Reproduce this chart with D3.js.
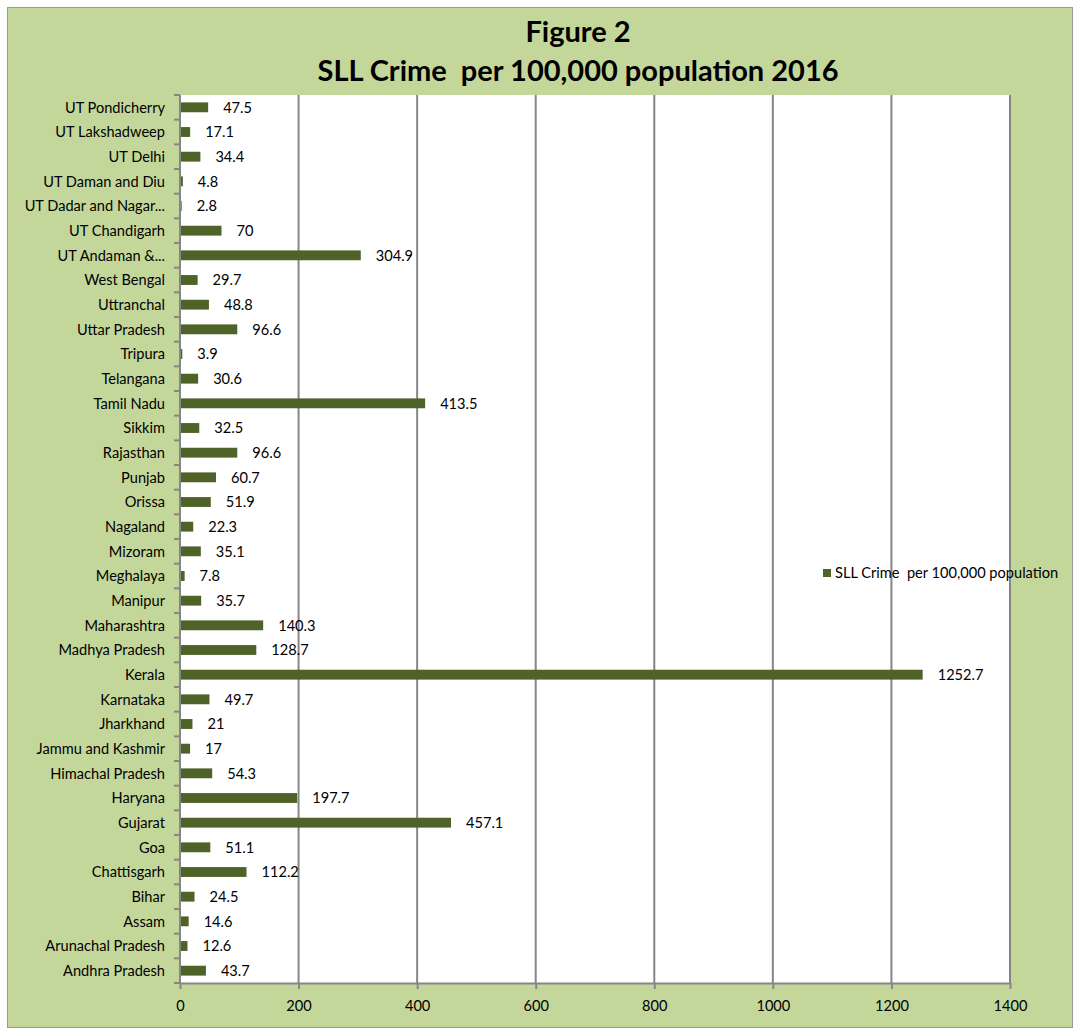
<!DOCTYPE html>
<html>
<head>
<meta charset="utf-8">
<script src="https://cdn.jsdelivr.net/npm/d3@7"></script>
<style>
  body { margin: 0; background: #fff; }
  text { font-family: Lato, "Open Sans", sans-serif; fill: #000; white-space: pre; }
</style>
</head>
<body>
<div id="chart"></div>
<script>
const WIDTH  = 1075;
const HEIGHT = 1030;

// top to bottom, as shown
const states = [
  "UT Pondicherry", "UT Lakshadweep", "UT Delhi", "UT Daman and Diu",
  "UT Dadar and Nagar...", "UT Chandigarh", "UT Andaman &...", "West Bengal",
  "Uttranchal", "Uttar Pradesh", "Tripura", "Telangana", "Tamil Nadu",
  "Sikkim", "Rajasthan", "Punjab", "Orissa", "Nagaland", "Mizoram",
  "Meghalaya", "Manipur", "Maharashtra", "Madhya Pradesh", "Kerala",
  "Karnataka", "Jharkhand", "Jammu and Kashmir", "Himachal Pradesh",
  "Haryana", "Gujarat", "Goa", "Chattisgarh", "Bihar", "Assam",
  "Arunachal Pradesh", "Andhra Pradesh"
];
const rates = [
  47.5, 17.1, 34.4, 4.8, 2.8, 70, 304.9, 29.7, 48.8, 96.6, 3.9, 30.6, 413.5,
  32.5, 96.6, 60.7, 51.9, 22.3, 35.1, 7.8, 35.7, 140.3, 128.7, 1252.7,
  49.7, 21, 17, 54.3, 197.7, 457.1, 51.1, 112.2, 24.5, 14.6, 12.6, 43.7
];
const xTicks = [0, 200, 400, 600, 800, 1000, 1200, 1400];
const titleLines = ["Figure 2", "SLL Crime  per 100,000 population 2016"];
const seriesName = "SLL Crime  per 100,000 population";

const BAR_COLOR  = "#4f6228";
const GRID_COLOR = "#868686";
const FONT_SIZE  = 14.6;

const plot = { left: 180, right: 1010, top: 95, bottom: 983 };

const svg = d3.select("#chart").append("svg")
  .attr("width", WIDTH).attr("height", HEIGHT);

// chart background
svg.append("rect")
  .attr("x", 7.5).attr("y", 7.5)
  .attr("width", 1065).attr("height", 1020)
  .attr("fill", "#c4d79b")
  .attr("stroke", "#9a9a9a").attr("stroke-width", 1);

svg.append("rect")
  .attr("x", plot.left).attr("y", plot.top)
  .attr("width", plot.right - plot.left).attr("height", plot.bottom - plot.top)
  .attr("fill", "#fff");

const x = d3.scaleLinear().domain([0, 1400]).range([plot.left, plot.right]);
const y = d3.scaleBand().domain(states).range([plot.top, plot.bottom]).paddingInner(0.6).paddingOuter(0.3);

// gridlines
svg.append("g").selectAll("line")
  .data(xTicks.slice(1))
  .join("line")
  .attr("x1", d => x(d)).attr("x2", d => x(d))
  .attr("y1", plot.top).attr("y2", plot.bottom)
  .attr("stroke", GRID_COLOR).attr("stroke-width", 2);

// bars
svg.append("g").selectAll("rect")
  .data(states)
  .join("rect")
  .attr("x", x(0))
  .attr("y", d => y(d))
  .attr("width", (d, i) => x(rates[i]) - x(0))
  .attr("height", y.bandwidth())
  .attr("fill", BAR_COLOR);

// value labels
svg.append("g").selectAll("text")
  .data(states)
  .join("text")
  .attr("x", (d, i) => x(rates[i]) + 15)
  .attr("y", d => y(d) + y.bandwidth() / 2)
  .attr("dy", "0.36em")
  .attr("font-size", FONT_SIZE)
  .text((d, i) => rates[i]);

// x axis
const xAxis = svg.append("g")
  .attr("transform", `translate(0,${plot.bottom})`)
  .call(d3.axisBottom(x).tickValues(xTicks).tickFormat(d3.format("d"))
    .tickSize(6).tickSizeOuter(0).tickPadding(12));
xAxis.select(".domain").attr("stroke", GRID_COLOR).attr("stroke-width", 2);
xAxis.selectAll(".tick line").attr("stroke", GRID_COLOR).attr("stroke-width", 2);
xAxis.selectAll("text").attr("font-size", FONT_SIZE).attr("font-family", null);

// y axis, ticks between categories
const bounds = d3.range(states.length + 1).map(i => plot.top + i * (plot.bottom - plot.top) / states.length);
const yAxis = svg.append("g");
yAxis.append("line")
  .attr("x1", plot.left).attr("x2", plot.left)
  .attr("y1", plot.top).attr("y2", plot.bottom)
  .attr("stroke", GRID_COLOR).attr("stroke-width", 2);
yAxis.selectAll(".tk")
  .data(bounds)
  .join("line")
  .attr("x1", plot.left - 6).attr("x2", plot.left)
  .attr("y1", d => d).attr("y2", d => d)
  .attr("stroke", GRID_COLOR).attr("stroke-width", 2);
yAxis.selectAll("text")
  .data(states)
  .join("text")
  .attr("x", plot.left - 15)
  .attr("y", d => y(d) + y.bandwidth() / 2)
  .attr("dy", "0.36em")
  .attr("text-anchor", "end")
  .attr("font-size", FONT_SIZE)
  .text(d => d);

// title
svg.append("g").selectAll("text")
  .data(titleLines)
  .join("text")
  .attr("x", 578)
  .attr("y", (d, i) => 42 + i * 39)
  .attr("text-anchor", "middle")
  .attr("font-size", 29)
  .attr("font-weight", "bold")
  .text(d => d);

// legend
const legend = svg.append("g").attr("transform", "translate(823,573)");
legend.append("rect")
  .attr("x", 0).attr("y", -4).attr("width", 8).attr("height", 8)
  .attr("fill", BAR_COLOR);
legend.append("text")
  .attr("x", 12).attr("dy", "0.36em")
  .attr("font-size", FONT_SIZE)
  .text(seriesName);
</script>
</body>
</html>
